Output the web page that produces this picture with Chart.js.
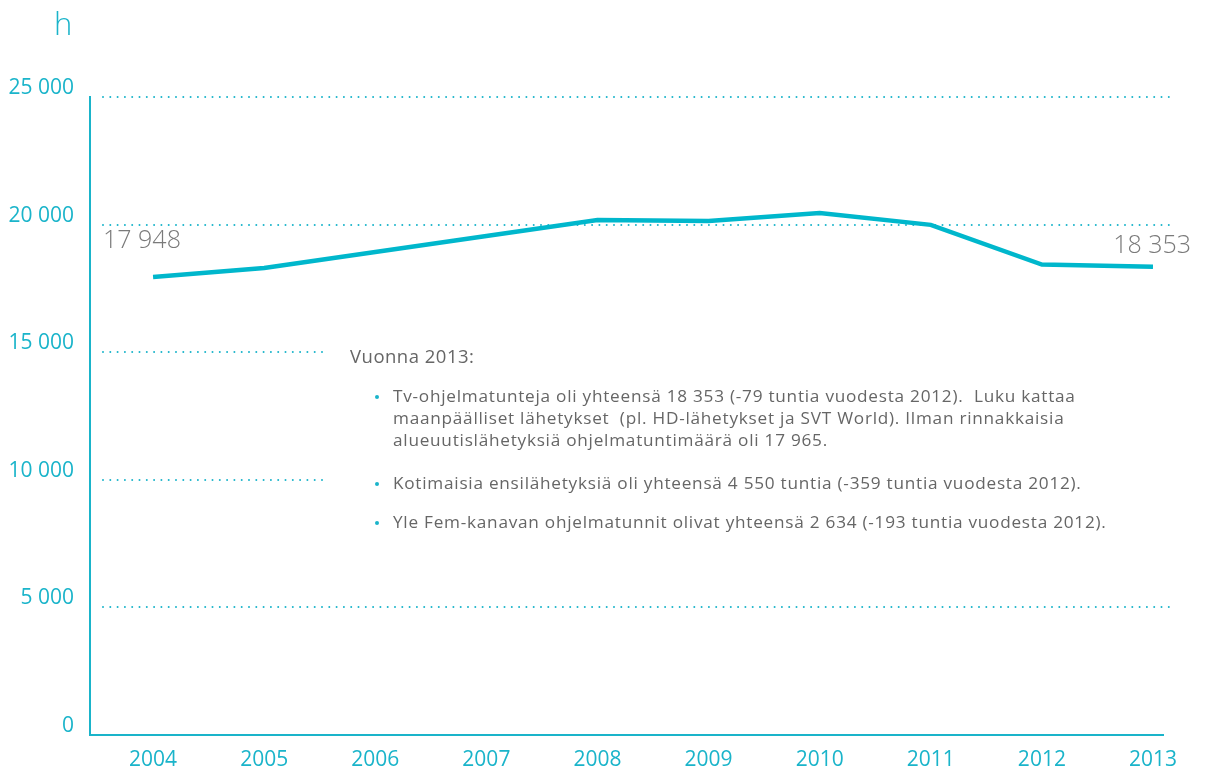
<!DOCTYPE html>
<html lang="fi">
<head>
    <meta charset="UTF-8">
    <title>Tv-ohjelmatunnit</title>
    <script src="https://cdn.jsdelivr.net/npm/chart.js@4.4.1/dist/chart.umd.min.js"></script>
    <style>
        * {
            margin: 0;
            padding: 0;
            box-sizing: border-box;
        }

        body {
            background: #fff;
            width: 1205px;
            height: 771px;
            overflow: hidden;
            font-family: "Open Sans", Arial, sans-serif;
        }

        .wrap {
            position: relative;
            width: 1205px;
            height: 771px;
        }

        .unit {
            position: absolute;
            left: 54px;
            top: 2px;
            font-size: 31px;
            font-weight: 300;
            color: #1ab4ca;
        }

        /* Text box in the middle of the chart */
        .note {
            position: absolute;
            left: 350px;
            top: 343px;
            color: #666;
            letter-spacing: 0.75px;
        }

        .note h4 {
            font-size: 18.5px;
            font-weight: 400;
            letter-spacing: 0.5px;
            margin-bottom: 17px;
        }

        .note ul {
            list-style: none;
            font-size: 17.2px;
            line-height: 22px;
        }

        .note li {
            position: relative;
            padding-left: 43px;
        }

        .note li.first {
            margin-bottom: 21px;
        }

        .note li.second {
            margin-bottom: 17px;
        }

        .note li::before {
            content: "";
            position: absolute;
            left: 25px;
            top: 10px;
            width: 4px;
            height: 4px;
            border-radius: 50%;
            background: #1ab4ca;
        }
    </style>
</head>
<body>
    <div class="wrap">
        <canvas id="tvChart" width="1205" height="771"></canvas>
        <div class="unit">h</div>
        <div class="note">
            <h4>Vuonna 2013:</h4>
            <ul>
                <li class="first">Tv-ohjelmatunteja oli yhteensä 18 353 (-79 tuntia vuodesta 2012).&nbsp; Luku kattaa<br>maanpäälliset lähetykset&nbsp; (pl. HD-lähetykset ja SVT World). Ilman rinnakkaisia<br>alueuutislähetyksiä ohjelmatuntimäärä oli 17 965.</li>
                <li class="second">Kotimaisia ensilähetyksiä oli yhteensä 4 550 tuntia (-359 tuntia vuodesta 2012).</li>
                <li>Yle Fem-kanavan ohjelmatunnit olivat yhteensä 2 634 (-193 tuntia vuodesta 2012).</li>
            </ul>
        </div>
    </div>

    <script>
        // Data
        const years = [2004, 2005, 2006, 2007, 2008, 2009, 2010, 2011, 2012, 2013];
        const hours = [17948, 18300, 18930, 19550, 20180, 20140, 20450, 19990, 18432, 18353];
        const yTicks = [0, 5000, 10000, 15000, 20000, 25000];

        const cyan = '#1ab4ca';
        const lineColor = '#00b7cc';

        function fmt(v) {
            return String(v).replace(/\B(?=(\d{3})+(?!\d))/g, ' ');
        }

        // dotted gridlines, two of them are cut short by the text box
        const dottedGrid = {
            id: 'dottedGrid',
            beforeDatasetsDraw(chart) {
                const ctx = chart.ctx;
                const y = chart.scales.y;
                ctx.save();
                ctx.strokeStyle = cyan;
                ctx.lineWidth = 2;
                ctx.lineCap = 'round';
                ctx.setLineDash([0, 7.3]);
                yTicks.forEach(v => {
                    if (v === 0) return;
                    const py = Math.round(y.getPixelForValue(v));
                    const end = (v === 10000 || v === 15000) ? 325 : 1175;
                    ctx.beginPath();
                    ctx.moveTo(103, py);
                    ctx.lineTo(end, py);
                    ctx.stroke();
                });
                ctx.restore();
            }
        };

        // first and last value labels
        const endLabels = {
            id: 'endLabels',
            afterDatasetsDraw(chart) {
                const ctx = chart.ctx;
                const pts = chart.getDatasetMeta(0).data;
                const first = pts[0];
                const last = pts[pts.length - 1];
                ctx.save();
                ctx.fillStyle = '#7a7a7a';
                ctx.font = '300 25px "Open Sans", Arial, sans-serif';
                ctx.textBaseline = 'alphabetic';
                ctx.textAlign = 'left';
                ctx.fillText(fmt(hours[0]), first.x - 50, first.y - 29);
                ctx.textAlign = 'right';
                ctx.fillText(fmt(hours[hours.length - 1]), last.x + 38, last.y - 14);
                ctx.restore();
            }
        };

        const ctx = document.getElementById('tvChart').getContext('2d');

        new Chart(ctx, {
            type: 'line',
            data: {
                datasets: [{
                    data: years.map((yr, i) => ({ x: yr, y: hours[i] })),
                    borderColor: lineColor,
                    borderWidth: 4.5,
                    pointRadius: 0,
                    tension: 0,
                    fill: false
                }]
            },
            options: {
                responsive: false,
                animation: false,
                layout: {
                    padding: { top: 97, right: 42, left: 0, bottom: 0 }
                },
                plugins: {
                    legend: { display: false },
                    tooltip: { enabled: false }
                },
                scales: {
                    x: {
                        type: 'linear',
                        min: 2004 - 63 / 111,
                        max: 2013 + 10 / 111,
                        afterBuildTicks: s => { s.ticks = years.map(v => ({ value: v })); },
                        afterFit: s => { s.height = 36; },
                        grid: { display: false, drawTicks: false },
                        border: { display: true, color: cyan, width: 2 },
                        ticks: {
                            color: cyan,
                            padding: 12,
                            maxRotation: 0,
                            autoSkip: false,
                            font: { family: '"Open Sans", Arial, sans-serif', size: 21 },
                            callback: v => String(v)
                        }
                    },
                    y: {
                        min: 0,
                        max: 25000,
                        afterBuildTicks: s => { s.ticks = yTicks.map(v => ({ value: v })); },
                        afterFit: s => { s.width = 90; },
                        grid: { display: false, drawTicks: false },
                        border: { display: true, color: cyan, width: 2 },
                        ticks: {
                            color: cyan,
                            padding: 16,
                            labelOffset: -9,
                            font: { family: '"Open Sans", Arial, sans-serif', size: 21 },
                            callback: v => fmt(v)
                        }
                    }
                }
            },
            plugins: [dottedGrid, endLabels]
        });
    </script>
</body>
</html>
